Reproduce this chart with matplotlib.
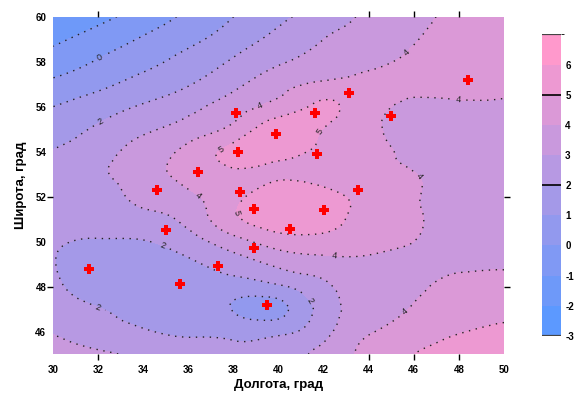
import numpy as np
import matplotlib
matplotlib.use("Agg")
import matplotlib.pyplot as plt
import matplotlib.tri as mtri
from matplotlib.colors import ListedColormap, BoundaryNorm, to_rgb

plt.rcParams["font.family"] = ["Liberation Sans", "DejaVu Sans"]
plt.rcParams["axes.unicode_minus"] = False

# grid nodes (longitude / latitude, degrees)
lon_nodes = [30, 32, 34, 36, 38, 40, 42, 44, 46, 48, 50]
lat_nodes = [45, 46, 47, 48, 49, 50, 51, 52, 53, 54, 55, 56, 57, 58, 59, 60]

# field values, one row per latitude (45 -> 60)
z_rows = [
    [3.4, 3.15, 2.75, 2.35, 2.2, 2.5, 3.35, 4.25, 5.0, 5.4, 5.7],
    [2.95, 2.5, 2.1, 1.85, 1.7, 1.75, 2.7, 3.9, 4.5, 4.95, 5.2],
    [2.55, 2.05, 1.5, 1.35, 0.95, 0.75, 2.45, 3.35, 4.1, 4.55, 4.75],
    [2.2, 1.5, 1.3, 1.3, 1.5, 1.85, 2.8, 3.4, 3.8, 4.3, 4.4],
    [2.03, 1.55, 1.5, 1.8, 2.5, 3.2, 3.6, 3.65, 3.75, 3.8, 3.85],
    [2.1, 1.9, 1.95, 2.55, 3.6, 4.5, 4.65, 4.5, 4.0, 3.6, 3.5],
    [2.35, 2.55, 2.7, 3.3, 4.8, 5.6, 5.4, 4.6, 4.1, 3.6, 3.5],
    [2.4, 2.6, 3.25, 3.8, 4.7, 5.6, 5.35, 4.6, 4.07, 3.6, 3.5],
    [2.3, 2.85, 3.55, 4.35, 4.75, 4.85, 4.6, 4.35, 4.03, 3.55, 3.5],
    [2.05, 2.6, 3.45, 4.3, 5.3, 5.4, 4.75, 4.4, 3.75, 3.6, 3.6],
    [1.53, 2.13, 2.8, 3.45, 4.3, 5.55, 4.98, 4.2, 3.7, 3.65, 3.65],
    [1.0, 1.55, 2.1, 2.7, 3.5, 4.4, 5.15, 4.35, 3.85, 3.85, 3.85],
    [0.23, 0.75, 1.37, 1.94, 2.75, 3.6, 4.2, 4.25, 4.2, 4.3, 4.25],
    [-0.55, 0.08, 0.7, 1.37, 2.12, 2.88, 3.35, 3.8, 4.15, 4.3, 4.3],
    [-1.21, -0.56, 0.1, 0.74, 1.5, 2.29, 3.0, 3.44, 3.95, 4.25, 4.35],
    [-1.9, -1.3, -0.55, 0.2, 1.0, 1.77, 2.5, 3.2, 3.75, 4.2, 4.35],
]

# observation points (red crosses)
station_lon = [48.4, 43.1, 38.1, 41.6, 45.0, 39.9, 38.2, 41.7, 36.4, 34.6, 38.3,
               43.5, 38.9, 42.0, 35.0, 40.5, 38.9, 37.3, 31.6, 35.6, 39.5]
station_lat = [57.2, 56.6, 55.7, 55.7, 55.6, 54.8, 54.0, 53.9, 53.1, 52.3, 52.2,
               52.3, 51.45, 51.4, 50.5, 50.55, 49.7, 48.9, 48.8, 48.1, 47.2]

levels = [-3, -2, -1, 0, 1, 2, 3, 4, 5, 6, 7]
cbar_ticks = [-3, -2, -1, 0, 1, 2, 3, 4, 5, 6]
x_ticks = [30, 32, 34, 36, 38, 40, 42, 44, 46, 48, 50]
y_ticks = [46, 48, 50, 52, 54, 56, 58, 60]

# contour labels: (lon, lat) spots where the map shows a label
label_spots = [(32.1, 58.1), (32.1, 55.3), (37.45, 54.1), (41.8, 54.9),
               (36.5, 52.1), (45.9, 58.2), (48.0, 56.4), (39.2, 56.0),
               (38.3, 51.3), (34.9, 49.9), (32.0, 47.1), (41.3, 47.3),
               (42.5, 49.45), (46.2, 52.9), (45.6, 46.9)]

# blue -> pink palette, one colour per band
c0 = np.array(to_rgb("#5c99ff"))
c1 = np.array(to_rgb("#ff99cc"))
n_bands = len(levels) - 1
band_colors = [tuple(c0 + (c1 - c0) * k / (n_bands - 1)) for k in range(n_bands)]
cmap = ListedColormap(band_colors)
norm = BoundaryNorm(levels, cmap.N)

LON, LAT = np.meshgrid(lon_nodes, lat_nodes)
Z = np.array(z_rows)
tri = mtri.Triangulation(LON.ravel(), LAT.ravel())
tri_f, z_f = mtri.UniformTriRefiner(tri).refine_field(Z.ravel(), subdiv=4)

fig = plt.figure(figsize=(5.82, 3.96), dpi=100)
ax = fig.add_axes([0.0916, 0.106, 0.7744, 0.852])

cf = ax.tricontourf(tri_f, z_f, levels=levels, cmap=cmap, norm=norm)
cs = ax.tricontour(tri_f, z_f, levels=levels, colors="#222222",
                   linewidths=1.0, linestyles=[(0, (1, 4))])
ax.clabel(cs, fmt="%d", fontsize=6.5, inline=True, manual=label_spots)

ax.plot(station_lon, station_lat, linestyle="none", marker="P",
        markersize=7.5, color="#ff0000", markeredgewidth=0)

ax.set_xlim(30, 50)
ax.set_ylim(45, 60)
for s in ax.spines.values():
    s.set_visible(False)

ax.set_xticks(x_ticks)
ax.set_xticklabels([str(v) for v in x_ticks], fontweight="bold", fontsize=7)
ax.set_yticks(y_ticks)
ax.set_yticklabels([str(v) for v in y_ticks], fontweight="bold", fontsize=7)
ax.tick_params(which="major", length=0, pad=8)
ax.tick_params(axis="y", which="major", pad=5)
ax.xaxis.remove_overlapping_locs = False
ax.yaxis.remove_overlapping_locs = False
ax.set_xticks([32, 44, 46, 48], minor=True)
ax.set_yticks([48, 52], minor=True)
ax.tick_params(which="minor", length=4, width=1, direction="out",
               top=True, bottom=True, left=True, right=True)

ax.set_xlabel("Долгота, град", fontweight="bold", fontsize=9.5, labelpad=3)
ax.set_ylabel("Широта, град", fontweight="bold", fontsize=9.5, labelpad=6)

cax = fig.add_axes([0.931, 0.152, 0.033, 0.761])
cb = fig.colorbar(cf, cax=cax, ticks=cbar_ticks)
cb.outline.set_visible(False)
cax.tick_params(length=0, pad=3)
for t in cax.get_yticklabels():
    t.set_fontweight("bold")
    t.set_fontsize(7)
for v in [5, 2]:
    cax.axhline(v, color="black", linewidth=1.2)
for v in [-3, 7]:
    cax.axhline(v, color="#444444", linewidth=1.6)

fig.savefig("out.png", dpi=100)
